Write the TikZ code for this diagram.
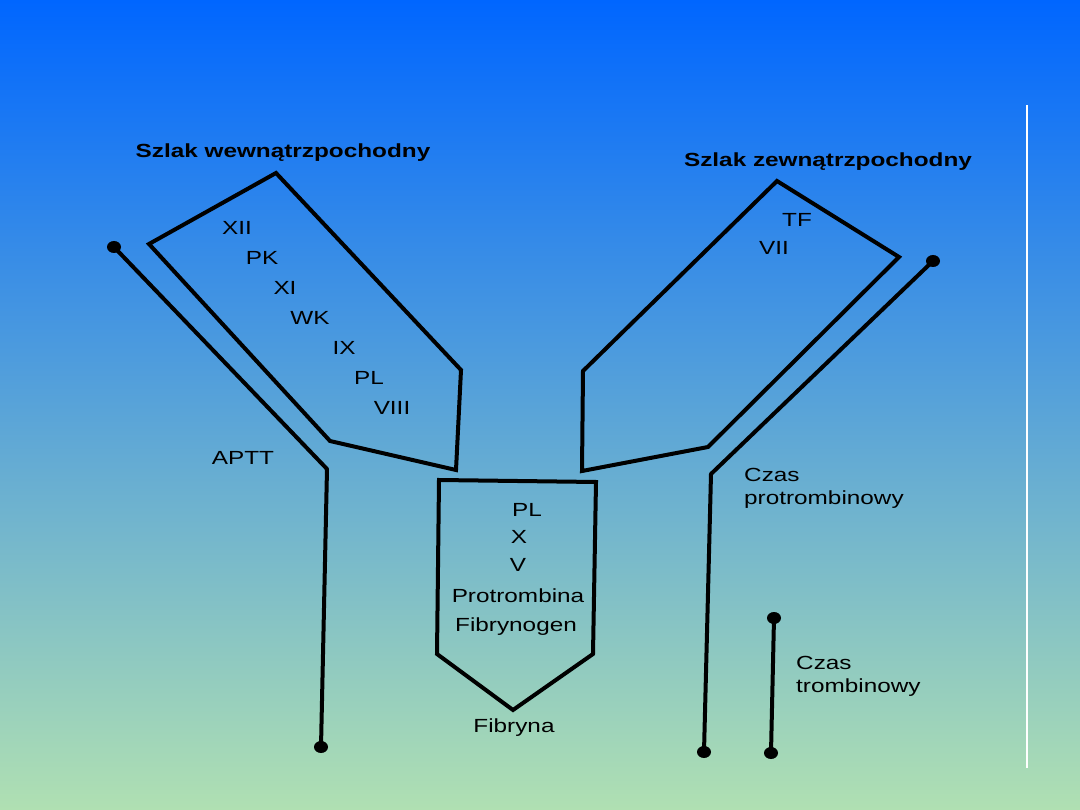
\documentclass[tikz,border=0pt]{standalone}
\usepackage{fontspec}
\setmainfont[FakeStretch=1.28]{Liberation Sans}
\begin{document}
\begin{tikzpicture}[x=1pt,y=-1pt,
  boxline/.style={line width=4pt,line join=miter},
  trace/.style={line width=4pt,line join=round},
  dotfill/.style={fill=black},
  lbl/.style={inner sep=0pt,font=\fontsize{19}{22}\selectfont},
  ttl/.style={inner sep=0pt,font=\fontsize{19}{22}\selectfont\bfseries},
  lft/.style={lbl,anchor=west,align=left}]
\useasboundingbox (0,0) rectangle (1080,810);
\shade[top color={rgb,255:red,0;green,102;blue,255},bottom color={rgb,255:red,176;green,224;blue,178}] (0,0) rectangle (1080,810);
\draw[white,line width=1.5pt] (1027,105) -- (1027,768);

% titles
\node[ttl] (tin) at (283,153) {Szlak wewnątrzpochodny};
\node[ttl] (tex) at (828,162) {Szlak zewnątrzpochodny};

% intrinsic box
\draw[boxline] (276,173) -- (149,244) -- (330,441) -- (456,470) -- (461,370) -- cycle;
\node[lbl] (xii) at (237,228) {XII};
\node[lbl] (pk) at (262,258) {PK};
\node[lbl] (xi) at (285,288) {XI};
\node[lbl] (wk) at (310,318) {WK};
\node[lbl] (ix) at (344,348) {IX};
\node[lbl] (pl1) at (369,378) {PL};
\node[lbl] (viii) at (392,408) {VIII};

% extrinsic box
\draw[boxline] (777,181) -- (899,257) -- (708,447) -- (582,471) -- (583,371) -- cycle;
\node[lbl] (tf) at (797,220) {TF};
\node[lbl] (vii) at (774,248) {VII};

% common box
\draw[boxline] (439,480) -- (596,482) -- (593,654) -- (513,710) -- (437,654) -- cycle;
\node[lbl] (pl2) at (527,510) {PL};
\node[lbl] (x) at (519,537) {X};
\node[lbl] (v) at (518,565) {V};
\node[lbl] (prot) at (518,596) {Protrombina};
\node[lbl] (fbg) at (516,627) {Fibrynogen};
\node[lbl] (fib) at (514,728) {Fibryna};

% APTT line
\coordinate (a1) at (114,247);
\coordinate (a2) at (327,469);
\coordinate (a3) at (321,747);
\draw[trace] (a1) -- (a2) -- (a3);
\fill[dotfill] (a1) ellipse (7 and 6);
\fill[dotfill] (a3) ellipse (7 and 6);
\node[lbl] (aptt) at (243,458) {APTT};

% PT line
\coordinate (p1) at (933,261);
\coordinate (p2) at (711,474);
\coordinate (p3) at (704,752);
\draw[trace] (p1) -- (p2) -- (p3);
\fill[dotfill] (p1) ellipse (7 and 6);
\fill[dotfill] (p3) ellipse (7 and 6);
\node[lft] (pt) at (744,488) {Czas\\[1pt]protrombinowy};

% TT line
\coordinate (t1) at (774,618);
\coordinate (t2) at (771,753);
\draw[trace] (t1) -- (t2);
\fill[dotfill] (t1) ellipse (7 and 6);
\fill[dotfill] (t2) ellipse (7 and 6);
\node[lft] (tt) at (796,676) {Czas\\[1pt]trombinowy};
\end{tikzpicture}
\end{document}
